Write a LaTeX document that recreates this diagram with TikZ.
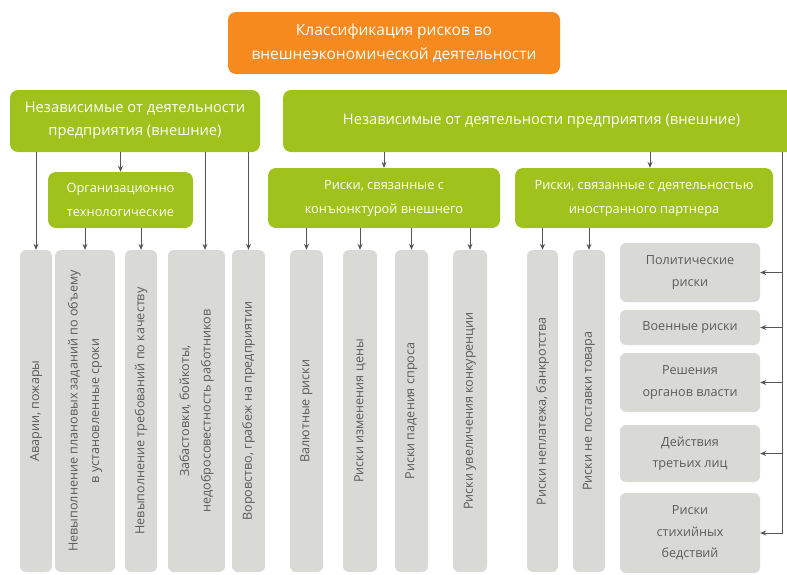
\documentclass[tikz,border=0pt]{standalone}
\usepackage{fontspec}
\setmainfont{Open Sans}
\usetikzlibrary{arrows.meta}
\definecolor{leafgreen}{HTML}{9FC21C}
\definecolor{titleorange}{HTML}{F78A1E}
\definecolor{boxgray}{HTML}{D9D9D6}
\definecolor{textgray}{HTML}{5B5B5B}
\definecolor{linegray}{HTML}{555555}

\tikzset{
  titlebox/.style={fill=titleorange, rounded corners=8pt, text=white, align=center,
    inner sep=0pt, font=\fontsize{15.5}{24}\selectfont},
  greenbox/.style={fill=leafgreen, rounded corners=8pt, text=white, align=center,
    inner sep=0pt, font=\fontsize{14.7}{23}\selectfont},
  subbox/.style={greenbox, font=\fontsize{12.8}{24}\selectfont},
  graybox/.style={fill=boxgray, rounded corners=6pt, text=textgray, align=center,
    inner sep=0pt, font=\fontsize{12.6}{21.5}\selectfont},
  vbox/.style={graybox, rotate=90, minimum width=322pt},
  arr/.style={draw=linegray, line width=0.9pt, -{Stealth[length=6pt,width=5pt]}},
}

\begin{document}
\begin{tikzpicture}[x=1pt, y=-1pt]
  \useasboundingbox (0,0) rectangle (787,574);

  % top level
  \node[titlebox, minimum width=332pt, minimum height=62pt] (title) at (394,43)
    {Классификация рисков во\\внешнеэкономической деятельности};
  \node[greenbox, minimum width=250pt, minimum height=62pt] (lb) at (135,121)
    {Независимые от деятельности\\предприятия (внешние)};
  \node[greenbox, minimum width=517pt, minimum height=62pt] (rb) at (541.5,121)
    {Независимые от деятельности предприятия (внешние)};

  % second level
  \node[subbox, minimum width=145pt, minimum height=56pt] (org) at (120.5,200)
    {Организационно\\технологические};
  \node[subbox, minimum width=232pt, minimum height=60pt] (konj) at (384,198)
    {Риски, связанные с\\конъюнктурой внешнего};
  \node[subbox, minimum width=258pt, minimum height=60pt] (part) at (644,198)
    {Риски, связанные с деятельностью\\иностранного партнера};

  % vertical risks
  \node[vbox, minimum height=32pt] (avar) at (36,411) {Аварии, пожары};
  \node[vbox, minimum height=60pt] (plan) at (85,411)
    {Невыполнение плановых заданий по объему\\в установленные сроки};
  \node[vbox, minimum height=32pt] (kach) at (141,411) {Невыполнение требований по качеству};
  \node[vbox, minimum height=57pt] (zab) at (196.5,411)
    {Забастовки, бойкоты,\\недобросовестность работников};
  \node[vbox, minimum height=33pt] (vor) at (248.5,411) {Воровство, грабеж на предприятии};
  \node[vbox, minimum height=33pt] (val) at (306.5,411) {Валютные риски};
  \node[vbox, minimum height=34pt] (cena) at (360,411) {Риски изменения цены};
  \node[vbox, minimum height=33pt] (spros) at (411.5,411) {Риски падения спроса};
  \node[vbox, minimum height=34pt] (konk) at (470,411) {Риски увеличения конкуренции};
  \node[vbox, minimum height=31pt] (neplat) at (542.5,411) {Риски неплатежа, банкротства};
  \node[vbox, minimum height=32pt] (postav) at (589,411) {Риски не поставки товара};

  % right column
  \node[graybox, minimum width=140pt, minimum height=59pt] (polit) at (690,272.5)
    {Политические\\риски};
  \node[graybox, minimum width=140pt, minimum height=35pt] (voen) at (690,327.5)
    {Военные риски};
  \node[graybox, minimum width=140pt, minimum height=59pt] (resh) at (690,382.5)
    {Решения\\органов власти};
  \node[graybox, minimum width=140pt, minimum height=57pt] (deist) at (690,453.5)
    {Действия\\третьих лиц};
  \node[graybox, minimum width=140pt, minimum height=80pt] (stih) at (690,533)
    {Риски\\стихийных\\бедствий};

  % connectors
  \draw[arr] (lb.south -| avar.east) -- (avar.east);
  \draw[arr] (lb.south -| org.north) -- (org.north);
  \draw[arr] ([xshift=8.5pt]lb.south -| zab.east) -- ([xshift=8.5pt]zab.east);
  \draw[arr] (lb.south -| vor.east) -- (vor.east);
  \draw[arr] (org.south -| plan.east) -- (plan.east);
  \draw[arr] (org.south -| kach.east) -- (kach.east);

  \draw[arr] (rb.south -| konj.north) -- (konj.north);
  \draw[arr] ([xshift=6pt]rb.south -| part.north) -- ([xshift=6pt]part.north);
  \foreach \n in {val, cena, spros, konk}
    \draw[arr] (konj.south -| \n.east) -- (\n.east);
  \foreach \n in {neplat, postav}
    \draw[arr] (part.south -| \n.east) -- (\n.east);

  \coordinate (rtop) at (782,152);
  \draw[arr] (rtop) |- (stih.east);
  \foreach \n in {polit, voen, resh, deist}
    \draw[arr] (\n.east -| rtop) -- (\n.east);
\end{tikzpicture}
\end{document}
